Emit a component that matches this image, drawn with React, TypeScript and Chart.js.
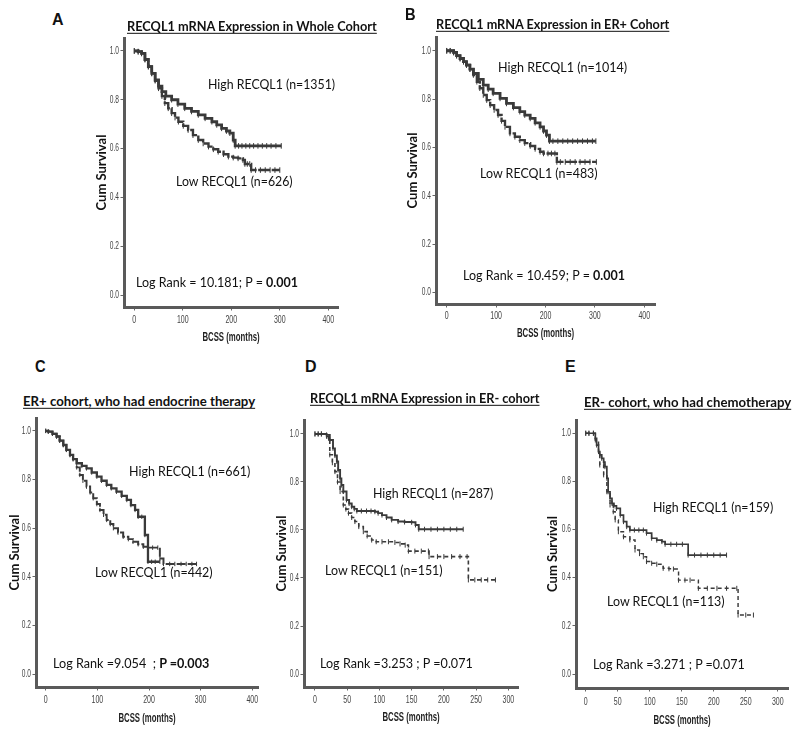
import React, { useEffect, useLayoutEffect, useRef } from "react";
import { Chart, registerables } from "chart.js";
Chart.register(...registerables);

// ---------------- data ----------------
const X_TICKS_400 = [0, 100, 200, 300, 400];
const X_TICKS_300 = [0, 50, 100, 150, 200, 250, 300];
const Y_TICKS = [0, 0.2, 0.4, 0.6, 0.8, 1.0];

const A_HIGH_T = [0, 8, 15, 22, 29, 36, 43, 50, 57, 65, 77, 90, 104, 118, 132, 146, 160, 170, 180, 190, 197, 204, 208, 215, 222, 230, 238, 246, 255, 264, 273, 282, 292, 303];
const A_HIGH_S = [1.0, 0.997, 0.99, 0.965, 0.936, 0.908, 0.881, 0.856, 0.833, 0.815, 0.8, 0.782, 0.765, 0.752, 0.738, 0.724, 0.71, 0.697, 0.683, 0.672, 0.663, 0.635, 0.611, 0.611, 0.611, 0.611, 0.611, 0.611, 0.611, 0.611, 0.611, 0.611, 0.611, 0.611];
const A_LOW_T = [0, 8, 15, 22, 29, 36, 43, 50, 57, 63, 70, 77, 84, 91, 101, 111, 121, 132, 142, 153, 163, 173, 184, 194, 204, 214, 224, 228, 233, 238, 241, 250, 260, 270, 280, 290, 300];
const A_LOW_S = [1.0, 0.997, 0.99, 0.965, 0.936, 0.908, 0.878, 0.847, 0.815, 0.786, 0.765, 0.745, 0.727, 0.71, 0.693, 0.676, 0.655, 0.635, 0.621, 0.608, 0.597, 0.587, 0.577, 0.567, 0.563, 0.56, 0.553, 0.537, 0.537, 0.537, 0.512, 0.512, 0.512, 0.512, 0.512, 0.512, 0.512];

const B_HIGH_T = [0, 7, 14, 20, 27, 34, 40, 47, 54, 64, 74, 84, 94, 108, 121, 135, 148, 158, 169, 179, 189, 196, 202, 208, 215, 225, 235, 245, 255, 265, 275, 285, 295, 302];
const B_HIGH_S = [1.0, 1.0, 0.993, 0.98, 0.968, 0.955, 0.941, 0.924, 0.906, 0.882, 0.858, 0.841, 0.824, 0.803, 0.782, 0.765, 0.748, 0.734, 0.72, 0.702, 0.685, 0.668, 0.651, 0.626, 0.626, 0.626, 0.626, 0.626, 0.626, 0.626, 0.626, 0.626, 0.626, 0.626];
const B_LOW_T = [0, 7, 14, 20, 27, 34, 40, 47, 54, 61, 67, 74, 81, 88, 96, 104, 111, 118, 128, 138, 148, 158, 169, 179, 189, 196, 205, 212, 219, 223, 230, 240, 250, 260, 270, 280, 290, 303];
const B_LOW_S = [1.0, 1.0, 0.993, 0.98, 0.968, 0.955, 0.941, 0.924, 0.9, 0.872, 0.845, 0.817, 0.796, 0.775, 0.755, 0.734, 0.71, 0.685, 0.658, 0.644, 0.63, 0.618, 0.606, 0.594, 0.582, 0.575, 0.575, 0.575, 0.575, 0.54, 0.54, 0.54, 0.54, 0.54, 0.54, 0.54, 0.54, 0.54];

const C_HIGH_T = [0, 5, 13, 21, 27, 34, 40, 47, 53, 60, 70, 79, 89, 99, 108, 118, 127, 137, 147, 157, 165, 173, 179, 186, 192, 198, 205, 212, 221];
const C_HIGH_S = [1.0, 0.997, 0.988, 0.977, 0.96, 0.942, 0.922, 0.901, 0.884, 0.867, 0.856, 0.846, 0.829, 0.812, 0.795, 0.778, 0.764, 0.75, 0.733, 0.716, 0.695, 0.675, 0.647, 0.647, 0.572, 0.462, 0.462, 0.462, 0.462];
const C_LOW_T = [0, 5, 13, 21, 27, 34, 40, 47, 53, 60, 66, 72, 79, 86, 92, 99, 105, 112, 118, 125, 131, 140, 150, 160, 169, 179, 189, 198, 207, 217, 221, 228, 240, 250, 262, 272, 283, 292];
const C_LOW_S = [1.0, 0.997, 0.988, 0.977, 0.96, 0.942, 0.922, 0.901, 0.884, 0.85, 0.819, 0.795, 0.771, 0.747, 0.723, 0.699, 0.675, 0.655, 0.634, 0.617, 0.6, 0.582, 0.565, 0.555, 0.544, 0.534, 0.524, 0.52, 0.52, 0.52, 0.475, 0.453, 0.453, 0.453, 0.453, 0.453, 0.453, 0.453];

const D_HIGH_T = [0, 5, 10, 18, 23, 28, 31, 34, 36, 39, 41, 44, 49, 53, 57, 61, 65, 72, 80, 87, 93, 98, 104, 111, 119, 129, 139, 150, 156, 161, 170, 180, 190, 200, 210, 220, 230];
const D_HIGH_S = [1.0, 1.0, 1.0, 0.996, 0.975, 0.94, 0.91, 0.885, 0.85, 0.815, 0.787, 0.76, 0.725, 0.71, 0.697, 0.688, 0.679, 0.679, 0.679, 0.679, 0.676, 0.67, 0.662, 0.652, 0.642, 0.635, 0.633, 0.632, 0.621, 0.603, 0.603, 0.603, 0.603, 0.603, 0.603, 0.603, 0.603];
const D_LOW_T = [0, 5, 10, 18, 21, 23, 27, 31, 35, 39, 44, 48, 52, 57, 62, 68, 75, 81, 88, 95, 104, 114, 124, 132, 140, 145, 155, 165, 176, 177, 190, 200, 212, 225, 236, 238, 248, 258, 268, 280];
const D_LOW_S = [1.0, 1.0, 1.0, 0.99, 0.982, 0.913, 0.88, 0.843, 0.8, 0.76, 0.704, 0.687, 0.67, 0.652, 0.635, 0.614, 0.593, 0.575, 0.558, 0.551, 0.551, 0.551, 0.548, 0.542, 0.537, 0.512, 0.512, 0.512, 0.512, 0.489, 0.489, 0.489, 0.489, 0.489, 0.489, 0.392, 0.392, 0.392, 0.392, 0.392];

const E_HIGH_T = [0, 5, 12, 15, 17, 20, 22, 25, 28, 30, 33, 35, 38, 41, 44, 48, 54, 59, 64, 69, 76, 83, 90, 95, 103, 111, 119, 124, 133, 142, 151, 160, 170, 180, 190, 200, 210, 220];
const E_HIGH_S = [1.0, 1.0, 1.0, 0.979, 0.951, 0.924, 0.91, 0.896, 0.88, 0.861, 0.813, 0.757, 0.73, 0.709, 0.698, 0.688, 0.66, 0.633, 0.612, 0.598, 0.598, 0.598, 0.598, 0.585, 0.564, 0.556, 0.55, 0.539, 0.539, 0.539, 0.539, 0.494, 0.494, 0.494, 0.494, 0.494, 0.494, 0.494];
const E_LOW_T = [0, 5, 12, 15, 20, 22, 28, 33, 38, 43, 46, 51, 59, 69, 77, 84, 90, 95, 103, 111, 121, 130, 137, 145, 155, 163, 176, 190, 205, 220, 236, 238, 250, 262];
const E_LOW_S = [1.0, 1.0, 1.0, 0.972, 0.924, 0.868, 0.827, 0.757, 0.702, 0.674, 0.64, 0.591, 0.57, 0.557, 0.515, 0.5, 0.487, 0.467, 0.46, 0.456, 0.439, 0.437, 0.436, 0.39, 0.39, 0.39, 0.356, 0.356, 0.356, 0.356, 0.356, 0.245, 0.245, 0.245];

const X_TITLE = "BCSS (months)";
const Y_TITLE = "Cum Survival";

// ---------------- layout / style ----------------
const LINE = "#3a3a3a";
const AXIS = "#5a5a5a";
const WY = 40;
const PT = 8;
const PR = 8;
const HX = 40;

type PanelDef = {
  box: { L: number; T: number; R: number; B: number };
  xMin: number; xMax: number; yMin: number; yMax: number;
  xTicks: number[];
  highT: number[]; highS: number[]; lowT: number[]; lowS: number[];
  yTitleGap: number; xTitleGap: number; xTickGap: number;
  thick: number; lowDash: number[]; mark: number;
};

const PANELS: PanelDef[] = [
  { box: { L: 124, T: 38, R: 338, B: 307 }, xMin: -21.2, xMax: 420, yMin: -0.049, yMax: 1.053, xTicks: X_TICKS_400,
    highT: A_HIGH_T, highS: A_HIGH_S, lowT: A_LOW_T, lowS: A_LOW_S, yTitleGap: 22, xTitleGap: 30, xTickGap: 13, thick: 2.8, lowDash: [12, 1.5], mark: 2.8 },
  { box: { L: 436, T: 37, R: 655, B: 304 }, xMin: -21.7, xMax: 421.7, yMin: -0.048, yMax: 1.057, xTicks: X_TICKS_400,
    highT: B_HIGH_T, highS: B_HIGH_S, lowT: B_LOW_T, lowS: B_LOW_S, yTitleGap: 23, xTitleGap: 29, xTickGap: 12, thick: 2.8, lowDash: [12, 1.5], mark: 2.8 },
  { box: { L: 36, T: 418, R: 258, B: 687 }, xMin: -18.8, xMax: 411, yMin: -0.053, yMax: 1.053, xTicks: X_TICKS_400,
    highT: C_HIGH_T, highS: C_HIGH_S, lowT: C_LOW_T, lowS: C_LOW_S, yTitleGap: 21, xTitleGap: 31, xTickGap: 13, thick: 2.3, lowDash: [9, 2], mark: 2.2 },
  { box: { L: 304, T: 420, R: 518, B: 687 }, xMin: -17, xMax: 315, yMin: -0.054, yMax: 1.058, xTicks: X_TICKS_300,
    highT: D_HIGH_T, highS: D_HIGH_S, lowT: D_LOW_T, lowS: D_LOW_S, yTitleGap: 22.5, xTitleGap: 30, xTickGap: 13, thick: 1.9, lowDash: [4, 3], mark: 2.5 },
  { box: { L: 576, T: 420, R: 788, B: 688 }, xMin: -15.2, xMax: 316, yMin: -0.058, yMax: 1.055, xTicks: X_TICKS_300,
    highT: E_HIGH_T, highS: E_HIGH_S, lowT: E_LOW_T, lowS: E_LOW_S, yTitleGap: 23, xTitleGap: 32, xTickGap: 14, thick: 1.7, lowDash: [4, 3], mark: 2.5 },
];

const SANS = "'Liberation Sans', Arial, sans-serif";
const YTITLE_FONT = { family: "Lato, 'Open Sans', sans-serif", size: 13, weight: "bold" as const, lineHeight: 1.2 };
const TICK_LEN = 3.5;

// Draws tick labels and the x title in a condensed form (the reference uses a narrow typeface).
const condensedText = {
  id: "condensedText",
  afterDraw(chart: any, _args: any, opts: any) {
    const { ctx, chartArea } = chart;
    const xs = chart.scales.x;
    const ys = chart.scales.y;
    ctx.save();
    ctx.fillStyle = "#444";
    ctx.textBaseline = "middle";
    ctx.font = `10px ${SANS}`;
    ctx.textAlign = "right";
    ys.ticks.forEach((t: any) => {
      const y = ys.getPixelForValue(t.value);
      ctx.save();
      ctx.translate(chartArea.left - TICK_LEN - 1.5, y);
      ctx.scale(0.66, 1);
      ctx.fillText(Number(t.value).toFixed(1), 0, 0);
      ctx.restore();
    });
    ctx.textAlign = "center";
    xs.ticks.forEach((t: any) => {
      const x = xs.getPixelForValue(t.value);
      ctx.save();
      ctx.translate(x, chartArea.bottom + opts.xTickGap);
      ctx.scale(0.7, 1);
      ctx.fillText(String(t.value), 0, 0);
      ctx.restore();
    });
    ctx.fillStyle = "#1e1e1e";
    ctx.font = `bold 13px ${SANS}`;
    ctx.save();
    ctx.translate((chartArea.left + chartArea.right) / 2, chartArea.bottom + opts.xTitleGap);
    ctx.scale(0.6, 1);
    ctx.fillText(opts.xTitle, 0, 0);
    ctx.restore();
    ctx.restore();
  },
};

function KMPanel({ p }: { p: PanelDef }) {
  const ref = useRef<HTMLCanvasElement>(null);
  const W = WY + (p.box.R - p.box.L) + PR;
  const H = PT + (p.box.B - p.box.T) + HX;
  const left = p.box.L - WY;
  const top = p.box.T - PT;

  useEffect(() => {
    if (!ref.current) return;
    const toPts = (t: number[], s: number[]) => t.map((x, i) => ({ x, y: s[i] }));
    const yPad = WY - p.yTitleGap - (YTITLE_FONT.size * 1.2) / 2;
    const chart = new Chart(ref.current, {
      type: "line",
      data: {
        datasets: [
          {
            data: toPts(p.lowT, p.lowS),
            stepped: true,
            borderColor: LINE,
            borderWidth: p.thick * 0.85,
            borderDash: p.lowDash,
            pointStyle: "line",
            pointRotation: 90,
            pointRadius: p.mark,
            pointBorderWidth: 1,
            pointBorderColor: LINE,
            pointBackgroundColor: LINE,
            fill: false,
          },
          {
            data: toPts(p.highT, p.highS),
            stepped: true,
            borderColor: LINE,
            borderWidth: p.thick,
            pointStyle: "line",
            pointRotation: 90,
            pointRadius: p.mark,
            pointBorderWidth: 1,
            pointBorderColor: LINE,
            pointBackgroundColor: LINE,
            fill: false,
          },
        ],
      },
      plugins: [condensedText],
      options: {
        responsive: false,
        animation: false,
        devicePixelRatio: 1,
        layout: { padding: { top: PT, right: PR, left: 0, bottom: 0 } },
        plugins: {
          legend: { display: false },
          tooltip: { enabled: false },
          title: { display: false },
          condensedText: { xTickGap: p.xTickGap, xTitleGap: p.xTitleGap, xTitle: X_TITLE },
        },
        scales: {
          x: {
            type: "linear",
            min: p.xMin,
            max: p.xMax,
            afterBuildTicks: (s: any) => { s.ticks = p.xTicks.map((v) => ({ value: v })); },
            afterFit: (s: any) => { s.height = HX; s.paddingLeft = 0; s.paddingRight = 0; },
            ticks: { display: false },
            grid: { display: true, drawOnChartArea: false, drawTicks: true, tickLength: TICK_LEN, color: "#666", lineWidth: 1 },
            border: { display: true, width: 3, color: AXIS },
          },
          y: {
            type: "linear",
            min: p.yMin,
            max: p.yMax,
            afterBuildTicks: (s: any) => { s.ticks = Y_TICKS.map((v) => ({ value: v })); },
            afterFit: (s: any) => { s.width = WY; s.paddingTop = 0; s.paddingBottom = 0; },
            ticks: { display: false },
            grid: { display: true, drawOnChartArea: false, drawTicks: true, tickLength: TICK_LEN, color: "#666", lineWidth: 1 },
            border: { display: true, width: 3, color: AXIS },
            title: { display: true, text: Y_TITLE, color: "#111", font: YTITLE_FONT, padding: { top: yPad, bottom: 0 } },
          },
        },
      },
    } as any);
    return () => chart.destroy();
  }, []);

  return (
    <canvas
      ref={ref}
      width={W}
      height={H}
      style={{ position: "absolute", left, top, width: W, height: H }}
    />
  );
}

type LabelProps = {
  x1: number; x2: number; cy: number; size: number;
  bold?: boolean; underline?: boolean; family?: string; children: React.ReactNode;
};

function Label({ x1, x2, cy, size, bold, underline, family, children }: LabelProps) {
  const ref = useRef<HTMLDivElement>(null);
  useLayoutEffect(() => {
    const el = ref.current;
    if (!el) return;
    el.style.transform = "translateY(-50%)";
    const w = el.scrollWidth || el.getBoundingClientRect().width;
    const s = w > 0 ? (x2 - x1) / w : 1;
    el.style.transform = `translateY(-50%) scaleX(${s})`;
  }, []);
  return (
    <div
      ref={ref}
      style={{
        position: "absolute",
        left: x1,
        top: cy,
        whiteSpace: "nowrap",
        transformOrigin: "0 50%",
        fontFamily: family || "Lato, 'Open Sans', sans-serif",
        fontSize: size,
        fontWeight: bold ? 700 : 400,
        lineHeight: 1.15,
        textDecoration: underline ? "underline" : "none",
        textUnderlineOffset: 2,
        color: "#111",
      }}
    >
      {children}
    </div>
  );
}

export default function App() {
  return (
    <div style={{ position: "absolute", left: 0, top: 0, width: 800, height: 733, background: "#fff", overflow: "hidden" }}>
      {PANELS.map((p, i) => (
        <KMPanel key={i} p={p} />
      ))}

      {/* Panel A */}
      <Label x1={52} x2={64} cy={20} size={16} bold family={SANS}>A</Label>
      <Label x1={127} x2={377} cy={27} size={12.5} bold underline>RECQL1 mRNA Expression in Whole Cohort</Label>
      <Label x1={208} x2={335} cy={85} size={13.5}>High RECQL1 (n=1351)</Label>
      <Label x1={176} x2={293} cy={182} size={13.5}>Low RECQL1 (n=626)</Label>
      <Label x1={136} x2={298} cy={283} size={13.5}>Log Rank = 10.181; P = <b>0.001</b></Label>

      {/* Panel B */}
      <Label x1={405} x2={416} cy={15} size={16} bold family={SANS}>B</Label>
      <Label x1={436} x2={669} cy={25} size={12.5} bold underline>RECQL1 mRNA Expression in ER+ Cohort</Label>
      <Label x1={498} x2={627} cy={68} size={13.5}>High RECQL1 (n=1014)</Label>
      <Label x1={480} x2={598} cy={174} size={13.5}>Low RECQL1 (n=483)</Label>
      <Label x1={463} x2={625} cy={276} size={13.5}>Log Rank = 10.459; P = <b>0.001</b></Label>

      {/* Panel C */}
      <Label x1={35} x2={46} cy={367} size={16} bold family={SANS}>C</Label>
      <Label x1={23} x2={255} cy={402} size={12.5} bold underline>ER+ cohort, who had endocrine therapy</Label>
      <Label x1={129} x2={250} cy={472} size={13.5}>High RECQL1 (n=661)</Label>
      <Label x1={95} x2={213} cy={573} size={13.5}>Low RECQL1 (n=442)</Label>
      <Label x1={53} x2={209} cy={664} size={13.5}>Log Rank =9.054&nbsp; ; <b>P =0.003</b></Label>

      {/* Panel D */}
      <Label x1={305} x2={317} cy={367} size={16} bold family={SANS}>D</Label>
      <Label x1={310} x2={540} cy={399} size={12.5} bold underline>RECQL1 mRNA Expression in ER- cohort</Label>
      <Label x1={373} x2={493} cy={494} size={13.5}>High RECQL1 (n=287)</Label>
      <Label x1={325} x2={443} cy={571} size={13.5}>Low RECQL1 (n=151)</Label>
      <Label x1={320} x2={473} cy={664} size={13.5}>Log Rank =3.253 ; P =0.071</Label>

      {/* Panel E */}
      <Label x1={565} x2={576} cy={367} size={16} bold family={SANS}>E</Label>
      <Label x1={584} x2={791} cy={403} size={12.5} bold underline>ER- cohort, who had chemotherapy</Label>
      <Label x1={653} x2={773} cy={508} size={13.5}>High RECQL1 (n=159)</Label>
      <Label x1={607} x2={725} cy={602} size={13.5}>Low RECQL1 (n=113)</Label>
      <Label x1={593} x2={745} cy={665} size={13.5}>Log Rank =3.271 ; P =0.071</Label>
    </div>
  );
}
